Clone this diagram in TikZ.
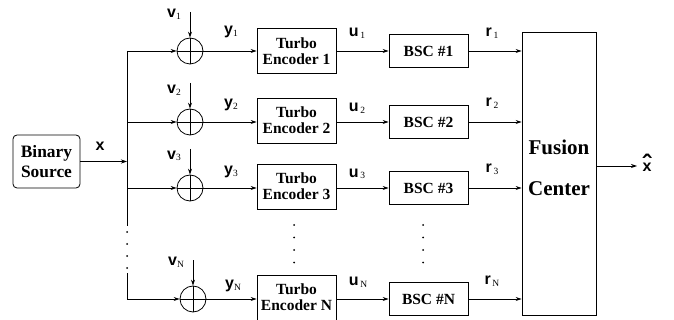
\documentclass[tikz,border=0pt]{standalone}
\usepackage{fontspec}
\setmainfont{Liberation Serif}
\newfontfamily\tserif{Liberation Serif}
\newfontfamily\lsans{Liberation Sans}
\usetikzlibrary{arrows.meta}
\newcommand\vlab[2]{{\lsans\bfseries\fontsize{16}{16}\selectfont #1}\raisebox{-0.35ex}{\tserif\fontsize{9.5}{10}\selectfont #2}}
\begin{document}
\begin{tikzpicture}[x=1pt,y=-1pt,
  line/.style={line width=0.8pt,black},
  arr/.style={line, -{Stealth[length=6pt,width=4pt]}},
  blk/.style={draw,line width=0.8pt,inner sep=0pt,minimum width=79pt,align=center,font=\tserif\bfseries\fontsize{15.5}{16}\selectfont},
  enc/.style={blk,minimum height=45pt},
  bsc/.style={blk,minimum height=33pt},
  adder/.style={draw,line width=0.8pt,circle,inner sep=0pt,minimum size=26pt},
  lab/.style={inner sep=0pt},
  dotm/.style={circle,fill,inner sep=0pt,minimum size=2pt}]
\useasboundingbox (0,0) rectangle (674,320);
% source
\node[draw,line width=0.8pt,rounded corners=4pt,minimum width=67pt,minimum height=53pt,inner sep=0pt,align=center,font=\tserif\bfseries\fontsize{17.4}{20}\selectfont] (src) at (46.5,161.5) {Binary\\Source};
\coordinate (bx) at (127,161.5);
\draw[arr] (src.east) -- (bx);
\node[lab] (xl) at (100,147) {\vlab{x}{}};
% bus
\coordinate (b1) at (127,51);
\coordinate (b2) at (127,122);
\coordinate (b3) at (127,188);
\coordinate (bN) at (127,299);
\coordinate (bt) at (127,226);
\coordinate (bb) at (127,273);
\draw[line] (b1) -- (bt);
\draw[line] (bb) -- (bN);
\foreach \i/\yy in {1/232,2/244,3/256,4/268} \node[dotm] (bd\i) at (127,\yy) {};
% adders
\node[adder] (a1) at (190,51) {};
\node[adder] (a2) at (190,122) {};
\node[adder] (a3) at (190,188) {};
\node[adder] (aN) at (193,299) {};
\foreach \a in {a1,a2,a3,aN} {
  \draw[line] (\a.north) -- (\a.south);
  \draw[line] (\a.west) -- (\a.east);
}
% noise inputs
\coordinate (n1) at (190,12);
\coordinate (n2) at (190,83);
\coordinate (n3) at (190,149);
\coordinate (nN) at (193,260);
\draw[arr] (n1) -- (a1.north);
\draw[arr] (n2) -- (a2.north);
\draw[arr] (n3) -- (a3.north);
\draw[arr] (nN) -- (aN.north);
\node[lab] (v1) at (174,14) {\vlab{v}{1}};
\node[lab] (v2) at (174,90) {\vlab{v}{2}};
\node[lab] (v3) at (174,156) {\vlab{v}{3}};
\node[lab] (vN) at (176,262) {\vlab{v}{N}};
% bus to adders
\draw[arr] (b1) -- (a1.west);
\draw[arr] (b2) -- (a2.west);
\draw[arr] (b3) -- (a3.west);
\draw[arr] (bN) -- (aN.west);
% encoders
\node[enc] (e1) at (296.5,51) {Turbo\\Encoder 1};
\node[enc] (e2) at (296.5,120.5) {Turbo\\Encoder 2};
\node[enc] (e3) at (296.5,186.5) {Turbo\\Encoder 3};
\node[enc] (eN) at (296.5,297.5) {Turbo\\Encoder N};
\draw[arr] (a1.east) -- (a1.east -| e1.west);
\draw[arr] (a2.east) -- (a2.east -| e2.west);
\draw[arr] (a3.east) -- (a3.east -| e3.west);
\draw[arr] (aN.east) -- (aN.east -| eN.west);
\node[lab] (y1) at (231,32) {\vlab{y}{1}};
\node[lab] (y2) at (231,105) {\vlab{y}{2}};
\node[lab] (y3) at (231,172) {\vlab{y}{3}};
\node[lab] (yN) at (233,286) {\vlab{y}{N}};
% BSCs
\node[bsc] (c1) at (428.5,51) {BSC \#1};
\node[bsc] (c2) at (428.5,122) {BSC \#2};
\node[bsc] (c3) at (428.5,188) {BSC \#3};
\node[bsc] (cN) at (428.5,299) {BSC \#N};
\draw[arr] (e1.east |- c1.west) -- (c1.west);
\draw[arr] (e2.east |- c2.west) -- (c2.west);
\draw[arr] (e3.east |- c3.west) -- (c3.west);
\draw[arr] (eN.east |- cN.west) -- (cN.west);
\node[lab] (u1) at (357,33) {\vlab{u}{\,1}};
\node[lab] (u2) at (357,108) {\vlab{u}{\,2}};
\node[lab] (u3) at (357,174) {\vlab{u}{\,3}};
\node[lab] (uN) at (358,282) {\vlab{u}{\,N}};
% vertical dots
\foreach \i/\yy in {1/225,2/237.5,3/250,4/262.5} {
  \node[dotm] (ed\i) at (294,\yy) {};
  \node[dotm] (cd\i) at (423,\yy) {};
}
% fusion center
\node[draw,line width=0.8pt,minimum width=74pt,minimum height=283pt,inner sep=0pt] (fc) at (559,173.5) {};
\node[lab,align=center,font=\tserif\bfseries\fontsize{21}{41}\selectfont] (fct) at (559,167.5) {Fusion\\Center};
\draw[arr] (c1.east) -- (c1.east -| fc.west);
\draw[arr] (c2.east) -- (c2.east -| fc.west);
\draw[arr] (c3.east) -- (c3.east -| fc.west);
\draw[arr] (cN.east) -- (cN.east -| fc.west);
\node[lab] (r1) at (492,33) {\vlab{r}{\,1}};
\node[lab] (r2) at (492,103) {\vlab{r}{\,2}};
\node[lab] (r3) at (492,169) {\vlab{r}{\,3}};
\node[lab] (rN) at (492,281) {\vlab{r}{\,N}};
% output
\coordinate (out) at (637,166);
\draw[arr] (fc.east |- out) -- (out);
\node[lab,anchor=base] (xh) at (647,172) {\lsans\bfseries\fontsize{16}{16}\selectfont\ooalign{x\cr\hidewidth\raisebox{-1.5pt}{\fontsize{26}{26}\selectfont\char"02C6}\hidewidth\cr}};
\end{tikzpicture}
\end{document}
